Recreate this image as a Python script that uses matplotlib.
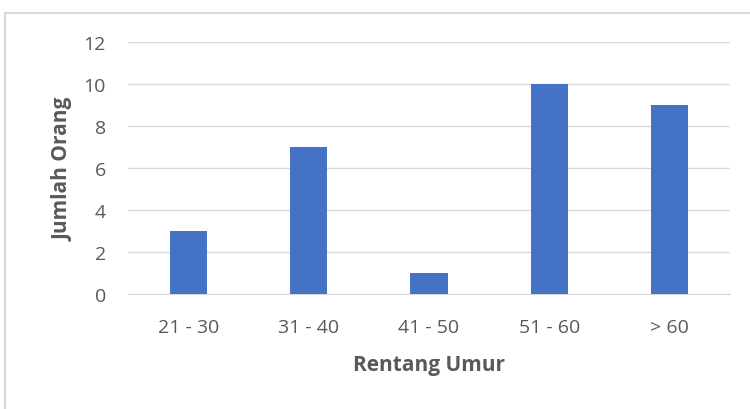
import matplotlib.pyplot as plt
from matplotlib.lines import Line2D

categories = ['21 - 30', '31 - 40', '41 - 50', '51 - 60', '> 60']
counts = [3, 7, 1, 10, 9]
yticks = [0, 2, 4, 6, 8, 10, 12]

plt.rcParams['font.family'] = ['Open Sans', 'DejaVu Sans']
text_color = '#595959'

fig = plt.figure(figsize=(7.5, 4.1), dpi=100)
ax = fig.add_axes([128 / 750, 1 - 295 / 410, 602 / 750, 252 / 410])

x = range(len(categories))
ax.bar(x, counts, width=0.31, color='#4472C4', zorder=3)
ax.set_xlim(-0.5, len(categories) - 0.5)
ax.set_ylim(0, 12)
ax.set_yticks(yticks)
ax.set_xticks(list(x))
ax.set_xticklabels(categories)
ax.yaxis.grid(True, color='#d9d9d9', linewidth=1, zorder=0)
for s in ax.spines.values():
    s.set_visible(False)
ax.spines['bottom'].set_visible(True)
ax.spines['bottom'].set_color('#d9d9d9')
ax.tick_params(axis='both', length=0, labelsize=14, colors=text_color)
ax.tick_params(axis='x', pad=17)
ax.tick_params(axis='y', pad=16)
ax.set_xlabel('Rentang Umur', fontsize=15, fontweight='bold', color=text_color, labelpad=13)
ax.set_ylabel('Jumlah Orang', fontsize=15, fontweight='bold', color=text_color, labelpad=7)

# chart border (cropped on right and bottom)
bx, by = 5 / 750, 1 - 14 / 410
fig.add_artist(Line2D([bx, 1], [by, by], transform=fig.transFigure, color='#d9d9d9', lw=1.5))
fig.add_artist(Line2D([bx, bx], [0, by], transform=fig.transFigure, color='#d9d9d9', lw=1.5))

fig.savefig('out.png', dpi=100)
